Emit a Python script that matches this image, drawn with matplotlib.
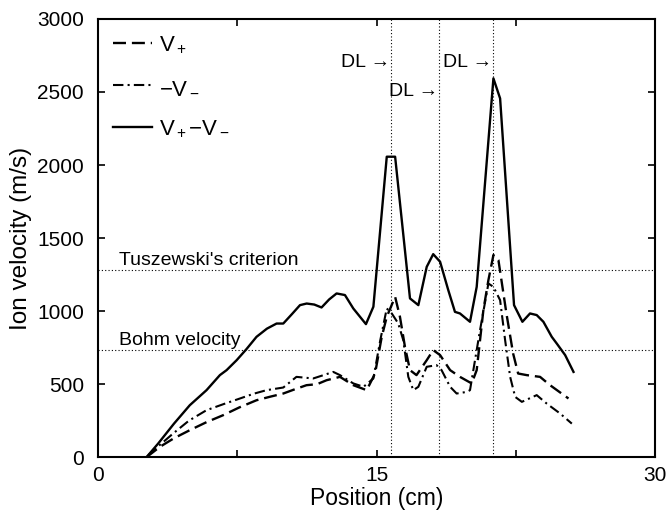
import numpy as np
import matplotlib
matplotlib.use("Agg")
import matplotlib.pyplot as plt

plt.rcParams['font.family'] = ['Liberation Sans', 'DejaVu Sans']
plt.rcParams['mathtext.fontset'] = 'custom'
plt.rcParams['mathtext.rm'] = 'Liberation Sans'
plt.rcParams['mathtext.it'] = 'Liberation Sans'

# v+ - v- (solid)
x_sum = [2.62, 3.25, 4.1, 4.95, 5.85, 6.57, 6.93, 7.47, 8.0, 8.54, 9.1, 9.62, 9.98,
         10.45, 10.88, 11.24, 11.65, 12.04, 12.45, 12.85, 13.3, 13.75, 14.43, 14.83,
         15.55, 16.0, 16.8, 17.25, 17.7, 18.05, 18.42, 18.86, 19.22, 19.49, 20.03,
         20.39, 21.29, 21.65, 22.4, 22.85, 23.26, 23.62, 23.98, 24.43, 24.7, 25.15, 25.6]
v_sum = [0, 94, 230, 356, 459, 562, 596, 664, 740, 824, 880, 915, 915,
         980, 1041, 1052, 1045, 1025, 1080, 1121, 1110, 1018, 911, 1030,
         2057, 2057, 1087, 1041, 1303, 1390, 1338, 1144, 995, 984, 927,
         1166, 2593, 2456, 1041, 927, 984, 973, 927, 824, 778, 699, 584]

# v+ (dashed)
x_plus = [2.62, 3.34, 4.1, 4.95, 5.85, 6.75, 7.6, 8.54, 9.3, 9.98, 10.6, 11.23, 11.8,
          12.31, 13.03, 13.75, 14.47, 14.92, 15.28, 15.55, 16.0, 16.26, 16.53, 16.8,
          17.15, 17.7, 18.05, 18.42, 18.96, 19.49, 20.12, 20.39, 20.75, 21.02, 21.29,
          21.56, 21.99, 22.35, 22.62, 23.08, 23.8, 24.34, 25.33]
v_plus = [0, 71, 130, 185, 240, 288, 340, 390, 415, 436, 465, 493, 500,
          527, 550, 493, 459, 573, 824, 961, 1098, 961, 755, 596,
          562, 664, 733, 699, 596, 550, 505, 596, 1007, 1212, 1384,
          1349, 984, 710, 573, 562, 550, 493, 402]

# -v- (dash-dot)
x_minus = [2.71, 3.3, 4.05, 4.9, 5.85, 6.8, 7.65, 8.4, 9.08, 9.98, 10.69, 11.59,
           12.1, 12.67, 13.03, 13.75, 14.3, 14.83, 15.2, 15.55, 15.82, 16.17, 16.44,
           16.71, 16.98, 17.25, 17.7, 18.23, 18.5, 18.96, 19.31, 19.85, 20.03, 20.57,
           21.02, 21.29, 21.65, 21.92, 22.19, 22.46, 22.82, 23.62, 24.16, 24.88, 25.51]
v_minus = [14, 80, 162, 250, 322, 365, 402, 435, 459, 477, 550, 539,
           560, 584, 562, 505, 482, 539, 800, 1018, 984, 915, 801,
           550, 459, 482, 619, 630, 596, 482, 436, 447, 459, 870,
           1189, 1166, 1075, 801, 550, 413, 379, 425, 367, 299, 230]

dl_pos = [15.76, 18.35, 21.25]
dl_y = [2700, 2500, 2700]
tuszewski = 1281
bohm = 733

fig = plt.figure(figsize=(6.7, 5.12), dpi=100)
ax = fig.add_axes([0.146, 0.107, 0.832, 0.856])

ax.plot(x_plus, v_plus, color='black', lw=1.7, linestyle=(0, (5.5, 2.5)), label=r'V$_+$')
ax.plot(x_minus, v_minus, color='black', lw=1.5, linestyle=(0, (5, 2, 1, 2)), label=r'$-$V$_-$')
ax.plot(x_sum, v_sum, color='black', lw=1.7, linestyle='-', label=r'V$_+$$-$V$_-$')

for xd, yd in zip(dl_pos, dl_y):
    ax.axvline(xd, color='black', lw=0.8, linestyle=(0, (1, 2)))
    ax.text(xd - 0.05, yd, 'DL \u2192', ha='right', va='center', fontsize=14)

ax.axhline(tuszewski, color='black', lw=0.8, linestyle=(0, (1, 2)))
ax.axhline(bohm, color='black', lw=0.8, linestyle=(0, (1, 2)))
ax.text(1.15, tuszewski + 10, "Tuszewski's criterion", fontsize=14, va='bottom')
ax.text(1.15, bohm + 10, 'Bohm velocity', fontsize=14, va='bottom')

ax.set_xlim(0, 30)
ax.set_ylim(0, 3000)
ax.set_xticks([0, 7.5, 15, 22.5, 30])
ax.set_xticklabels(['0', '', '15', '', '30'])
ax.set_yticks([0, 500, 1000, 1500, 2000, 2500, 3000])
ax.tick_params(direction='in', top=True, right=True, labelsize=15, length=5, width=1.2)
ax.tick_params(axis='x', pad=6)
ax.tick_params(axis='y', pad=10)
for s in ax.spines.values():
    s.set_linewidth(1.5)
ax.set_xlabel('Position (cm)', fontsize=16.5, labelpad=2)
ax.set_ylabel('Ion velocity (m/s)', fontsize=17.5, labelpad=4)

ax.legend(loc='upper left', frameon=False, fontsize=16, handlelength=1.75,
          labelspacing=0.95, borderaxespad=0.3, handletextpad=0.3)

fig.savefig('out.png', dpi=100)
